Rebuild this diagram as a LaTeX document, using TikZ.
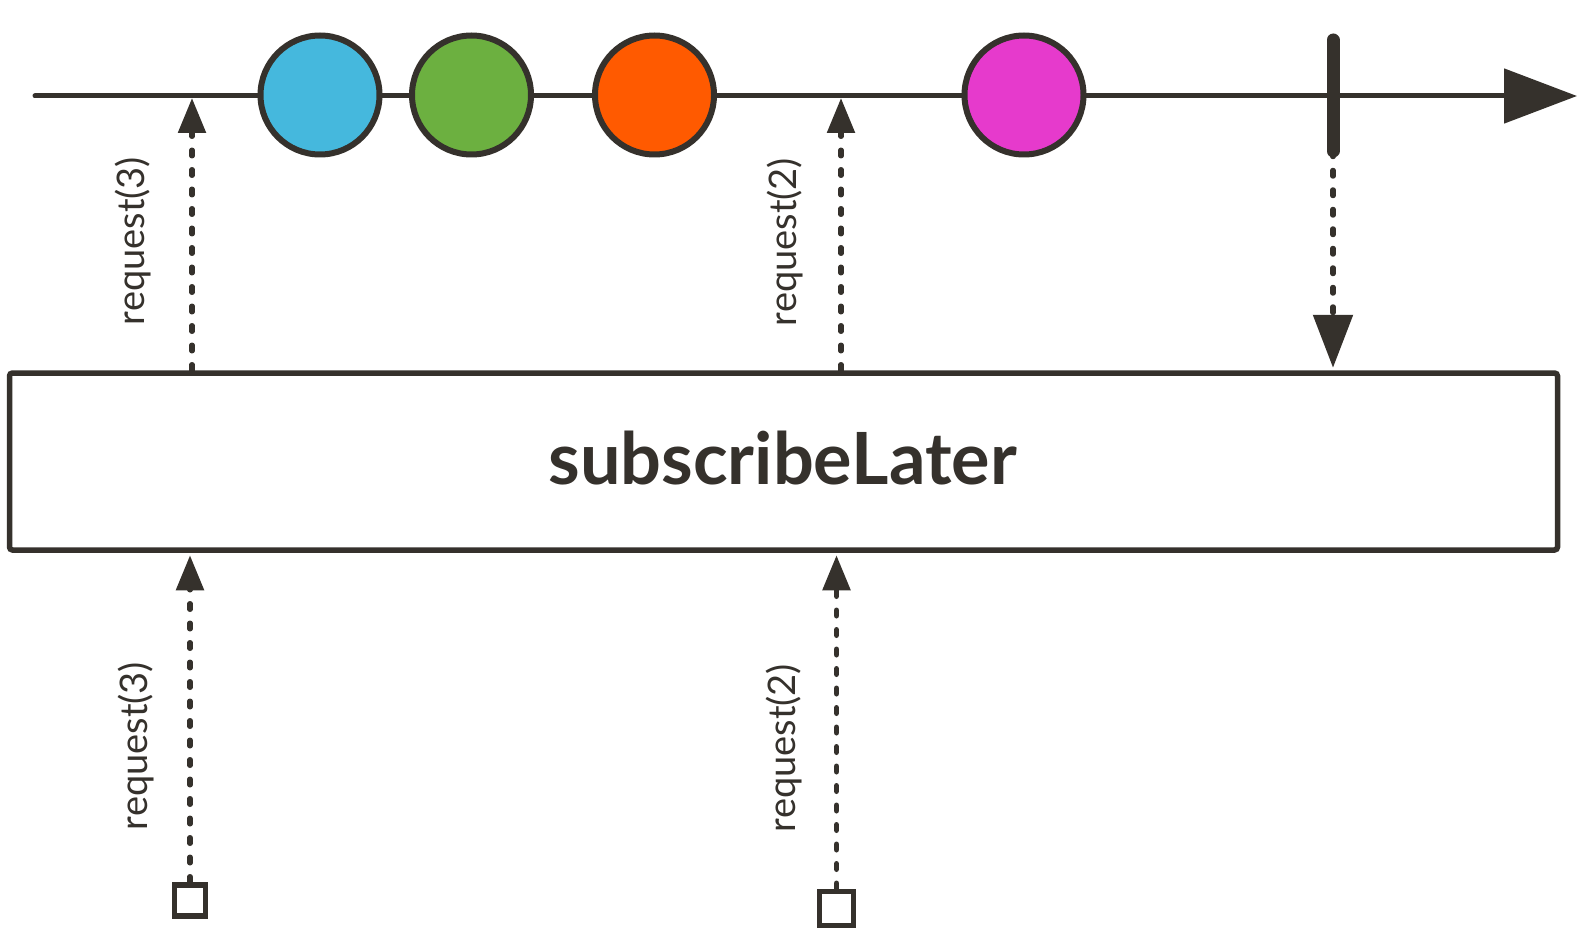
\documentclass[tikz,border=0pt]{standalone}
\usepackage{fontspec}
\setmainfont{Lato}
\usetikzlibrary{arrows.meta}
\definecolor{ink}{RGB}{53,49,44}
\definecolor{cblue}{RGB}{69,184,221}
\definecolor{cgreen}{RGB}{108,176,64}
\definecolor{corange}{RGB}{255,90,0}
\definecolor{cmagenta}{RGB}{230,58,204}
\tikzset{
  marble/.style={circle, draw=ink, line width=6pt, minimum size=119pt, inner sep=0pt},
  reqline/.style={draw=ink, line width=5.5pt, dash pattern=on 5.5pt off 14pt, line cap=round},
  smalltip/.style={-{Triangle[length=35pt,width=27pt]}},
  bigtip/.style={-{Triangle[length=53pt,width=39pt]}},
  srcbox/.style={rectangle, draw=ink, line width=5.5pt, inner sep=0pt},
  reqlabel/.style={rotate=90, text=ink, inner sep=0pt, font=\fontsize{38}{40}\selectfont},
}
\begin{document}
\begin{tikzpicture}[x=1pt,y=-1pt]
\useasboundingbox[fill=white] (0,0) rectangle (1588,936);
% timeline
\coordinate (tlstart) at (35,96);
\coordinate (tlend) at (1577,96);
\draw[ink, line width=5pt, line cap=round, -{Triangle[length=73pt,width=54pt]}] (tlstart) -- (tlend);
% marbles
\node[marble, fill=cblue] (m1) at (320,95) {};
\node[marble, fill=cgreen] (m2) at (471.5,95) {};
\node[marble, fill=corange] (m3) at (654.5,95) {};
\node[marble, fill=cmagenta] (m4) at (1024,95) {};
% completion tick
\coordinate (tickT) at (1333,40);
\coordinate (tickB) at (1333,151);
\draw[ink, line width=13pt, line cap=round] (tickT) -- (tickB);
% operator box
\node[srcbox, rounded corners=3pt, minimum width=1548pt, minimum height=177pt] (op) at (783.5,461.5) {};
\node[anchor=base, text=ink, inner sep=0pt] (opl) at (782.5,484)
  {\fontsize{72}{72}\selectfont\bfseries subscribeLater};
% request targets on the timeline
\coordinate (r3top) at (192,98);
\coordinate (r2top) at (841,98);
% upstream requests
\draw[reqline, smalltip] (op.north -| r3top) -- (r3top);
\draw[reqline, smalltip] (op.north -| r2top) -- (r2top);
% completion propagates down
\draw[reqline, bigtip, shorten >=2.5pt] (tickB) -- (op.north -| tickB);
% downstream sources
\node[srcbox, minimum size=31pt] (s3) at (190,900.5) {};
\node[srcbox, minimum size=34pt] (s2) at (836.5,908.5) {};
\draw[reqline, smalltip, shorten >=2.5pt] (s3.north) -- (op.south -| s3);
\draw[reqline, smalltip, shorten >=2.5pt] (s2.north) -- (op.south -| s2);
% labels
\node[reqlabel] (l3t) at (133,241) {request(3)};
\node[reqlabel] (l2t) at (785,242) {request(2)};
\node[reqlabel] (l3b) at (136,746) {request(3)};
\node[reqlabel] (l2b) at (784,748) {request(2)};
\end{tikzpicture}
\end{document}
